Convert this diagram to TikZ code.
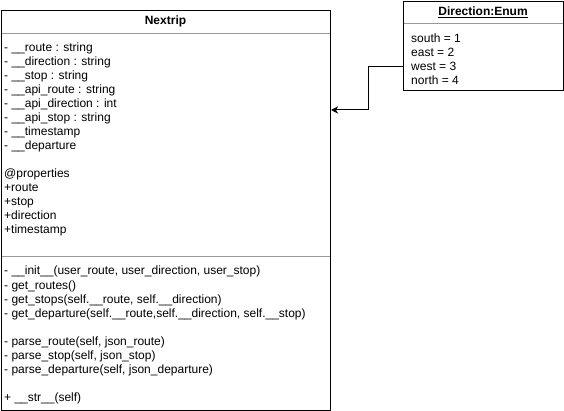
\documentclass[tikz,border=0pt]{standalone}
\usepackage{fontspec}
\setmainfont{Liberation Sans}
\usetikzlibrary{arrows.meta}
\begin{document}
\begin{tikzpicture}[x=1pt,y=1pt,
  box/.style={draw=black,line width=1pt,anchor=north west,inner sep=0pt,fill=white},
  sep/.style={draw=gray!80,line width=1pt},
  txt/.style={anchor=base west,inner sep=0pt,font=\fontsize{12}{14}\selectfont},
  ttl/.style={anchor=base,inner sep=0pt,font=\fontsize{12}{14}\selectfont\bfseries},
  conn/.style={draw=black,line width=1pt,-{Stealth[length=7pt,width=7pt,inset=2pt]}}]
\useasboundingbox (0,0) rectangle (564,-411);
% Nextrip class
\node[box,minimum width=329pt,minimum height=400pt] (nextrip) at (1,-10) {};
\node[ttl] (ntitle) at (165.5,-25) {Nextrip};
\draw[sep] (1.5,-34) -- (329.5,-34);
\draw[sep] (1.5,-257) -- (329.5,-257);
\node[txt] (a1) at (4,-52) {- \_\_route : string};
\node[txt] (a2) at (4,-66) {- \_\_direction : string};
\node[txt] (a3) at (4,-80) {- \_\_stop : string};
\node[txt] (a4) at (4,-94) {- \_\_api\_route : string};
\node[txt] (a5) at (4,-108) {- \_\_api\_direction : int};
\node[txt] (a6) at (4,-122) {- \_\_api\_stop : string};
\node[txt] (a7) at (4,-136) {- \_\_timestamp};
\node[txt] (a8) at (4,-150) {- \_\_departure};
\node[txt] (p0) at (4,-178) {@properties};
\node[txt] (p1) at (4,-192) {+route};
\node[txt] (p2) at (4,-206) {+stop};
\node[txt] (p3) at (4,-220) {+direction};
\node[txt] (p4) at (4,-234) {+timestamp};
\node[txt] (m1) at (4,-275) {- \_\_init\_\_(user\_route, user\_direction, user\_stop)};
\node[txt] (m2) at (4,-289) {- get\_routes()};
\node[txt] (m3) at (4,-303) {- get\_stops(self.\_\_route, self.\_\_direction)};
\node[txt] (m4) at (4,-317) {- get\_departure(self.\_\_route,self.\_\_direction, self.\_\_stop)};
\node[txt] (m5) at (4,-345) {- parse\_route(self, json\_route)};
\node[txt] (m6) at (4,-359) {- parse\_stop(self, json\_stop)};
\node[txt] (m7) at (4,-373) {- parse\_departure(self, json\_departure)};
\node[txt] (m8) at (4,-401) {+ \_\_str\_\_(self)};
% Direction enum
\node[box,minimum width=160pt,minimum height=89pt] (dir) at (403,-1) {};
\node[ttl] (dtitle) at (483,-16) {\underline{Direction:Enum}};
\draw[sep] (403.5,-24) -- (562.5,-24);
\node[txt] (e1) at (411,-43) {south = 1};
\node[txt] (e2) at (411,-57) {east = 2};
\node[txt] (e3) at (411,-71) {west = 3};
\node[txt] (e4) at (411,-85) {north = 4};
% connector
\coordinate (cs) at (dir.north west |- 0,-67);
\coordinate (ce) at (nextrip.north east |- 0,-110);
\draw[conn] (cs) -- (368,-67) |- (ce);
\end{tikzpicture}
\end{document}
